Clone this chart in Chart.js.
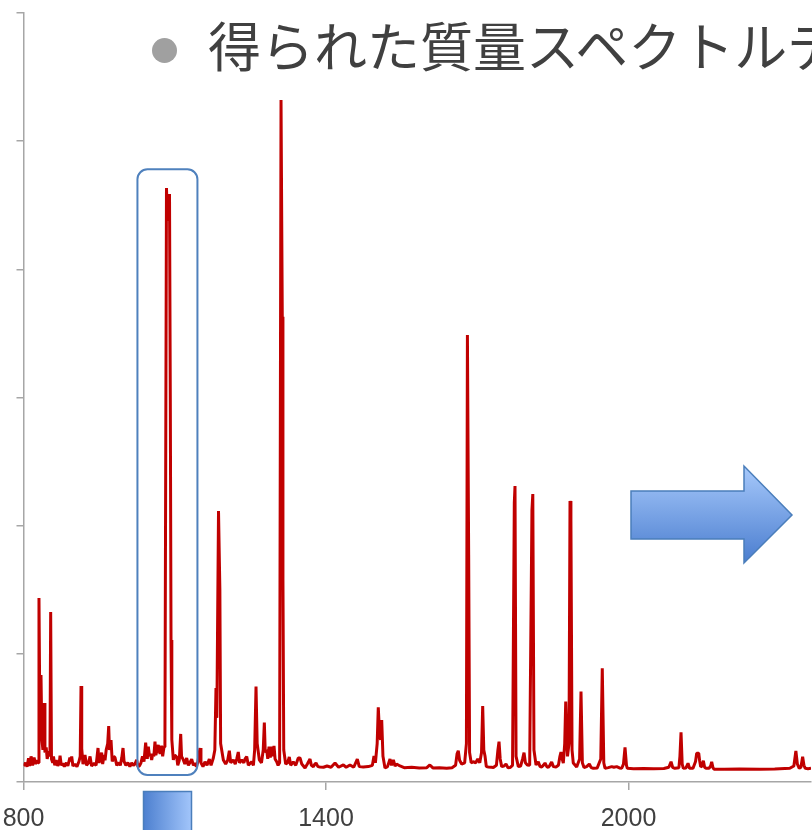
<!DOCTYPE html>
<html>
<head>
<meta charset="utf-8">
<script src="https://cdn.jsdelivr.net/npm/chart.js@4.4.0/dist/chart.umd.min.js"></script>
<style>
  html, body { margin: 0; padding: 0; background: #fff; overflow: hidden; }
  #wrap { position: relative; width: 812px; height: 830px; }
  #spectrum { position: absolute; left: 0; top: 0; }
  #bullet { position: absolute; left: 151.5px; top: 38px; width: 25px; height: 25px; border-radius: 50%; background: #a0a0a0; z-index: 2; }
  #heading { position: absolute; left: 208px; top: 18px; font-family: "Noto Sans CJK JP", "Noto Sans CJK SC", sans-serif; font-size: 53px; line-height: 53px; color: #404040; white-space: nowrap; z-index: 2; }
</style>
</head>
<body>
<div id="wrap">
  <canvas id="spectrum" width="812" height="830"></canvas>
  <div id="bullet"></div>
  <div id="heading">得られた質量スペクトルデータ</div>
</div>
<script>
// m/z axis ticks
const xTicks = [800, 1400, 2000];

// Measured spectrum: m/z values and the matching intensities
const mz = [
  800, 804, 807, 810, 812, 815, 818, 821, 824, 827, 829,
  830.7, 832.5, 834.7, 836.5, 838.5, 840.7, 842.5, 845, 847, 850, 852.5,
  853.9, 855.5, 858, 859.5, 862, 865, 868, 871, 872.5, 875, 878, 881, 885, 888,
  892, 894, 895.6, 898, 902, 906, 910, 912.5, 914.1, 915.5, 918, 922, 925, 929,
  932, 935, 940, 944, 946, 947.8, 950, 953, 955, 957, 960, 961.7, 964, 967,
  969, 970.5, 973.6, 976, 979, 981.5, 985, 989, 992, 995, 997.4, 999.5, 1003,
  1007, 1011, 1014.6, 1018, 1021, 1024.5, 1027, 1030, 1033, 1036, 1039,
  1042.3, 1044, 1045.5, 1047.6, 1050, 1052, 1054.2, 1056.5, 1058.5, 1060.8,
  1062.5, 1065, 1067.4, 1069, 1071, 1074, 1076, 1078.7, 1080.5,
  1083.6, 1085.5, 1087.5, 1089.6, 1091.2, 1092.6, 1094.2, 1097.2, 1100,
  1103.9, 1106, 1109, 1111.8, 1113.5, 1117, 1120, 1123.7, 1127, 1130, 1133.6,
  1137, 1140.2, 1143, 1146, 1150.1, 1152, 1156, 1160, 1164, 1168.6, 1172,
  1176.5, 1179.5, 1181.8, 1183.5, 1186.8, 1189.5, 1191, 1196.4, 1201, 1205,
  1208.3, 1211, 1216.2, 1220, 1223, 1226, 1228.5, 1232.8, 1237, 1239.5,
  1242.7, 1246, 1252.6, 1256, 1258.5, 1261.2, 1263.5, 1267.8, 1272, 1275.5,
  1277.7, 1279.5, 1282.4, 1284.5, 1287, 1289.5, 1292.3, 1294.5, 1296.9, 1299,
  1302.2, 1305, 1308, 1310.8, 1313.3, 1314.6, 1316.2, 1320, 1324, 1327.2,
  1330, 1335.1, 1340, 1345, 1348.5, 1352, 1358.4, 1363, 1368.3, 1371, 1374.9,
  1378, 1380.2, 1384, 1388.1, 1395, 1402, 1410, 1417.9, 1425, 1434.4, 1440,
  1447.6, 1455, 1462.1, 1466, 1474, 1484, 1492, 1495.2, 1498, 1501.5, 1503.7,
  1506.5, 1508.5, 1510.5, 1513, 1517, 1522, 1527, 1530, 1533.6, 1537, 1540,
  1546.8, 1555, 1570, 1585, 1600, 1606, 1612, 1625, 1639.4, 1650, 1657, 1660,
  1662.4, 1665, 1669, 1675, 1678.5, 1680.5, 1683, 1684.8, 1688, 1692.2, 1697,
  1701, 1705, 1708.5, 1710.8, 1713, 1715.4, 1718, 1722, 1728, 1732, 1738,
  1741, 1743.2, 1745.5, 1748.5, 1753, 1757, 1761, 1765, 1770, 1773.5, 1774.9,
  1777, 1781.5, 1786, 1790, 1792.8, 1795.5, 1799.4, 1804, 1808.5, 1810.2,
  1812.5, 1816.6, 1821.1, 1824.5, 1827.8, 1831, 1834.4, 1838, 1841, 1844,
  1847.6, 1851, 1856.2, 1861, 1864, 1866.1, 1868.5, 1870.7, 1873.5, 1875.5,
  1877.2, 1879, 1882, 1884, 1885.8, 1888, 1890.5, 1897.2, 1903, 1905.8,
  1908.5, 1911.8, 1917, 1922.3, 1926, 1930.2, 1938, 1945, 1948, 1951, 1953.4,
  1960, 1966.7, 1971, 1976.6, 1982, 1986.5, 1990, 1993.1, 1996, 1997.7, 2010,
  2030, 2050, 2070, 2080, 2084.4, 2087.5, 2092, 2100, 2102, 2104.2, 2106.5,
  2108.8, 2114, 2118.1, 2121, 2128, 2133, 2135.3, 2139.3, 2141, 2143.2, 2146,
  2148.5, 2151, 2153.8, 2160, 2163, 2165, 2167.5, 2169.6, 2190, 2220, 2260.8,
  2290, 2320, 2328, 2332, 2335, 2338.7, 2342, 2345.4, 2348, 2350.6, 2356, 2362
];
const intensity = [
  125, 150, 120, 185, 125, 200, 130, 190, 140, 170, 150,
  1435, 480, 835, 330, 250, 616, 230, 270, 180, 240, 200,
  1326, 180, 150, 200, 130, 170, 125, 150, 205, 130, 145, 120, 150, 125,
  190, 160, 200, 125, 140, 120, 160, 200, 749, 260, 140, 210, 130, 150,
  200, 125, 145, 130, 200, 265, 150, 190, 230, 140, 210, 170, 250, 300,
  437, 250, 328, 160, 200, 190, 130, 150, 130, 190, 265, 160, 130,
  150, 120, 150, 130, 140, 172, 120, 125, 150, 200, 160,
  307, 230, 180, 275, 200, 220, 172, 220, 200, 315,
  210, 250, 289, 240, 220, 283, 200, 273, 300,
  4634, 4380, 4420, 4588, 2980, 1108, 330, 172, 210,
  195, 130, 170, 375, 200, 172, 140, 187, 130, 150, 179,
  130, 148, 120, 160, 265, 150, 120, 158, 130, 179, 130,
  187, 250, 733, 500, 2114, 1498, 300, 172, 140, 170,
  244, 150, 172, 140, 180, 234, 150, 172, 150, 180,
  198, 130, 158, 130, 250, 744, 300, 172, 150, 250,
  463, 230, 250, 180, 275, 190, 275, 200, 281, 180,
  158, 130, 150, 5321, 3630, 1592, 250, 140, 150, 195,
  130, 158, 130, 187, 187, 140, 109, 140, 179, 130, 120,
  140, 148, 120, 117, 115, 125, 115, 148, 115, 133, 115,
  133, 115, 179, 120, 117, 120, 130, 203, 150, 300, 583,
  350, 330, 484, 200, 109, 120, 179, 130, 172, 125, 140,
  125, 112, 115, 110, 112, 133, 110, 112, 107, 112, 130, 220,
  244, 170, 140, 150, 300, 3488, 1771, 230, 150, 158, 150,
  179, 150, 230, 593, 250, 203, 120, 117, 115, 113, 130,
  250, 315, 180, 120, 125, 140, 112, 113, 130, 2177, 2309,
  200, 120, 125, 180, 229, 150, 133, 130, 2122, 2247,
  250, 133, 158, 120, 117, 130, 148, 120, 113, 130,
  156, 120, 117, 130, 200, 234, 180, 148, 300, 627,
  400, 200, 300, 2193, 2044, 250, 148, 117, 180, 705,
  150, 113, 120, 140, 112, 107, 110, 180, 887, 150, 107,
  112, 120, 115, 120, 110, 107, 140, 270, 130, 107, 104,
  105, 103, 106, 115, 158, 115, 107, 112, 200, 388, 140,
  107, 110, 146, 107, 108, 160, 224, 224, 170, 118, 125,
  166, 115, 107, 108, 125, 158, 112, 99, 100, 101, 99,
  102, 107, 125, 242, 140, 107, 115, 197, 130, 107, 104, 107
];

// m/z window and intensity span outlined around the base peak group
const highlightMz = [1026, 1145];
const highlightIntensity = [55, 4780];

const points = mz.map((m, i) => ({ x: m, y: intensity[i] }));

const axisGray = '#a6a6a6';

const decorations = {
  id: 'decorations',
  afterDatasetsDraw(chart) {
    const { ctx, scales: { x, y } } = chart;
    ctx.save();

    // rounded outline around the selected peak group
    const l = x.getPixelForValue(highlightMz[0]);
    const r = x.getPixelForValue(highlightMz[1]);
    const t = y.getPixelForValue(highlightIntensity[1]);
    const b = y.getPixelForValue(highlightIntensity[0]);
    ctx.beginPath();
    ctx.roundRect(l, t, r - l, b - t, 10);
    ctx.lineWidth = 2;
    ctx.strokeStyle = '#4f81bd';
    ctx.stroke();

    // block arrow pointing right
    const g = ctx.createLinearGradient(0, 466, 0, 563);
    g.addColorStop(0, '#a7c9fb');
    g.addColorStop(1, '#4a7dcf');
    ctx.beginPath();
    ctx.moveTo(631, 491);
    ctx.lineTo(744, 491);
    ctx.lineTo(744, 466);
    ctx.lineTo(792, 515);
    ctx.lineTo(744, 563);
    ctx.lineTo(744, 539);
    ctx.lineTo(631, 539);
    ctx.closePath();
    ctx.fillStyle = g;
    ctx.fill();
    ctx.lineWidth = 1.5;
    ctx.strokeStyle = '#4a7ebb';
    ctx.stroke();

    // gradient block below the axis
    const h = ctx.createLinearGradient(143, 0, 192, 0);
    h.addColorStop(0, '#4c7fcf');
    h.addColorStop(1, '#a3c6fb');
    ctx.beginPath();
    ctx.rect(143.5, 791.5, 48, 45);
    ctx.fillStyle = h;
    ctx.fill();
    ctx.strokeStyle = '#4a7ebb';
    ctx.stroke();

    ctx.restore();
  }
};

new Chart(document.getElementById('spectrum'), {
  type: 'line',
  data: {
    datasets: [{
      data: points,
      borderColor: '#c00000',
      borderWidth: 3,
      borderJoinStyle: 'bevel',
      pointRadius: 0,
      tension: 0,
      fill: false
    }]
  },
  options: {
    responsive: false,
    animation: false,
    devicePixelRatio: 1,
    layout: { autoPadding: false, padding: { top: 13, right: 1, left: 0, bottom: 0 } },
    plugins: { legend: { display: false }, tooltip: { enabled: false }, title: { display: false } },
    scales: {
      x: {
        type: 'linear',
        min: 800,
        max: 2362,
        afterBuildTicks: s => { s.ticks = xTicks.map(v => ({ value: v })); },
        afterFit: s => { s.height = 48; s.paddingLeft = 0; s.paddingRight = 0; },
        grid: { drawOnChartArea: false, color: axisGray, lineWidth: 1.5, tickLength: 8 },
        border: { color: axisGray, width: 1.5 },
        ticks: {
          autoSkip: false, maxRotation: 0, padding: 14, color: '#404040',
          font: { family: 'Liberation Sans', size: 25 },
          callback: v => String(v)
        }
      },
      y: {
        min: 0,
        max: 6000,
        afterFit: s => { s.width = 23.5; s.paddingTop = 0; s.paddingBottom = 0; },
        grid: { drawOnChartArea: false, color: axisGray, lineWidth: 1.5, tickLength: 7 },
        border: { color: axisGray, width: 1.5 },
        ticks: { stepSize: 1000, display: false }
      }
    }
  },
  plugins: [decorations]
});
</script>
</body>
</html>
